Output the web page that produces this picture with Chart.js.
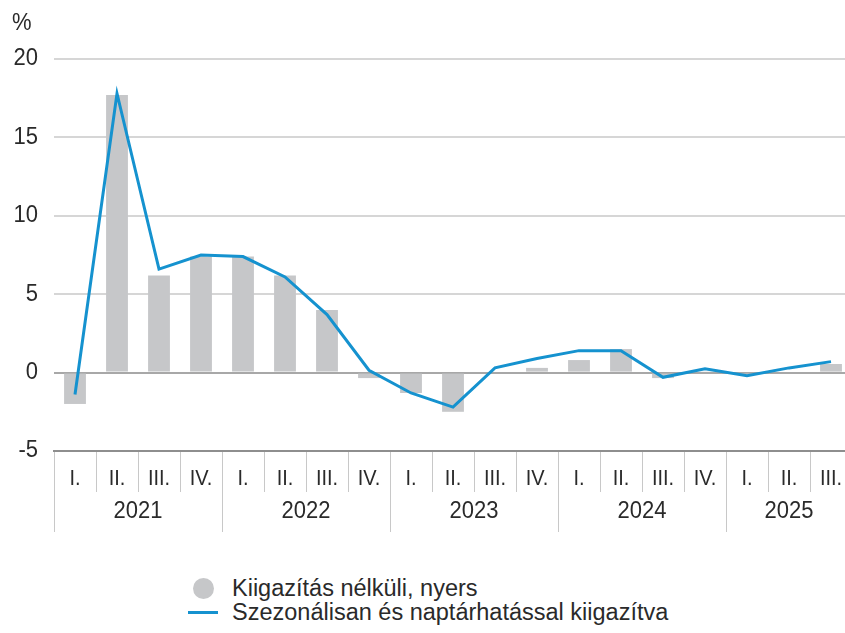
<!DOCTYPE html>
<html>
<head>
<meta charset="utf-8">
<script src="https://cdn.jsdelivr.net/npm/chart.js@4.4.1/dist/chart.umd.min.js"></script>
<style>
  html, body { margin: 0; padding: 0; background: #fff; overflow: hidden; }
  body { width: 845px; height: 633px; position: relative; font-family: "Liberation Sans", Arial, sans-serif; }
  #wrap { position: absolute; left: 0; top: 0; width: 852px; height: 545px; }
  #legend { position: absolute; left: 186px; top: 576px; font-size: 23.5px; color: #2a2a2a; }
  .item { display: flex; align-items: center; height: 24px; }
  .sym { width: 34px; height: 24px; position: relative; margin-right: 12px; }
  .dot { position: absolute; left: 7px; top: 2px; width: 21px; height: 21px; border-radius: 50%; }
  .ln { position: absolute; left: 2px; top: 11px; width: 30px; height: 3px; }
</style>
</head>
<body>
<div id="wrap"><canvas id="chart"></canvas></div>
<div id="legend"></div>
<script>
const years = ["2021", "2022", "2023", "2024", "2025"];
const labels = [
  "2021 I.", "2021 II.", "2021 III.", "2021 IV.",
  "2022 I.", "2022 II.", "2022 III.", "2022 IV.",
  "2023 I.", "2023 II.", "2023 III.", "2023 IV.",
  "2024 I.", "2024 II.", "2024 III.", "2024 IV.",
  "2025 I.", "2025 II.", "2025 III."
];
const quarterLabels = [
  "I.", "II.", "III.", "IV.", "I.", "II.", "III.", "IV.", "I.", "II.",
  "III.", "IV.", "I.", "II.", "III.", "IV.", "I.", "II.", "III."
];
const rawValues = [-2.0, 17.7, 6.2, 7.4, 7.4, 6.2, 4.0, -0.35, -1.3, -2.5,
  0.0, 0.3, 0.8, 1.5, -0.35, 0.05, -0.1, 0.0, 0.55];
const adjustedValues = [-1.4, 17.8, 6.6, 7.5, 7.4, 6.1, 3.7, 0.15, -1.3, -2.2,
  0.3, 0.9, 1.4, 1.4, -0.3, 0.25, -0.2, 0.3, 0.7];
const yTicks = [-5, 0, 5, 10, 15, 20];

const barColor = "#c6c7c9";
const lineColor = "#1592cf";
const font = "Liberation Sans, Arial, sans-serif";
const textColor = "#2a2a2a";
const stretch = 1.07;

function drawText(ctx, text, x, y) {
  ctx.save();
  ctx.translate(x, y);
  ctx.scale(1, stretch);
  ctx.fillText(text, 0, 0);
  ctx.restore();
}

// y labels, two-level x labels and separators
const axisLabels = {
  id: "axisLabels",
  afterDraw(chart) {
    const ctx = chart.ctx;
    const xs = chart.scales.x;
    const ys = chart.scales.y;
    const bottom = chart.chartArea.bottom;
    const half = (xs.getPixelForValue(1) - xs.getPixelForValue(0)) / 2;
    ctx.save();
    ctx.strokeStyle = "#c8c8c8";
    ctx.lineWidth = 1;
    ctx.fillStyle = textColor;
    ctx.textBaseline = "middle";

    ctx.textAlign = "right";
    ctx.font = "22px " + font;
    yTicks.forEach(v => drawText(ctx, String(v), 38, ys.getPixelForValue(v)));

    ctx.textAlign = "left";
    drawText(ctx, "%", 12, 24);

    ctx.textAlign = "center";
    ctx.font = "20px " + font;
    quarterLabels.forEach((q, i) => {
      const x = xs.getPixelForValue(i);
      drawText(ctx, q, x, bottom + 28);
      const left = Math.round(x - half) + 0.5;
      const isYear = i % 4 === 0;
      ctx.beginPath();
      ctx.moveTo(left, bottom + 1);
      ctx.lineTo(left, bottom + (isYear ? 81 : 41));
      ctx.stroke();
    });
    ctx.font = "22px " + font;
    years.forEach((y, k) => {
      const first = k * 4;
      const last = Math.min(first + 3, quarterLabels.length - 1);
      const x = (xs.getPixelForValue(first) + xs.getPixelForValue(last)) / 2;
      drawText(ctx, y, x, bottom + 61);
    });
    ctx.restore();
  }
};

new Chart(document.getElementById("chart"), {
  data: {
    labels: labels,
    datasets: [
      {
        type: "line",
        label: "Szezonálisan és naptárhatással kiigazítva",
        data: adjustedValues,
        borderColor: lineColor,
        borderWidth: 3,
        pointRadius: 0,
        tension: 0,
        order: 0
      },
      {
        type: "bar",
        label: "Kiigazítás nélküli, nyers",
        data: rawValues,
        backgroundColor: barColor,
        categoryPercentage: 1,
        barPercentage: 0.52,
        order: 1
      }
    ]
  },
  options: {
    responsive: true,
    maintainAspectRatio: false,
    animation: false,
    layout: { padding: { top: 59, right: 0, bottom: 0, left: 0 } },
    plugins: { legend: { display: false }, tooltip: { enabled: false } },
    scales: {
      x: {
        ticks: { display: false },
        grid: { display: false },
        border: { display: true, color: "#8e8e8e", width: 2 },
        afterFit(scale) { scale.height = 94; }
      },
      y: {
        min: -5,
        max: 20,
        afterBuildTicks(scale) { scale.ticks = yTicks.map(v => ({ value: v })); },
        afterFit(scale) { scale.width = 54; },
        border: { display: false },
        ticks: { display: false },
        grid: {
          drawTicks: false,
          color: c => c.tick.value === 0 ? "#a8a8a8" : (c.tick.value === -5 ? "rgba(0,0,0,0)" : "#d6d6d6"),
          lineWidth: 2
        }
      }
    }
  },
  plugins: [axisLabels]
});

// legend from the dataset labels
const legend = document.getElementById("legend");
[
  { label: "Kiigazítás nélküli, nyers", kind: "dot", color: barColor },
  { label: "Szezonálisan és naptárhatással kiigazítva", kind: "ln", color: lineColor }
].forEach(it => {
  const row = document.createElement("div");
  row.className = "item";
  row.innerHTML = '<span class="sym"><span class="' + it.kind + '" style="background:' + it.color + '"></span></span><span>' + it.label + '</span>';
  legend.appendChild(row);
});
</script>
</body>
</html>
